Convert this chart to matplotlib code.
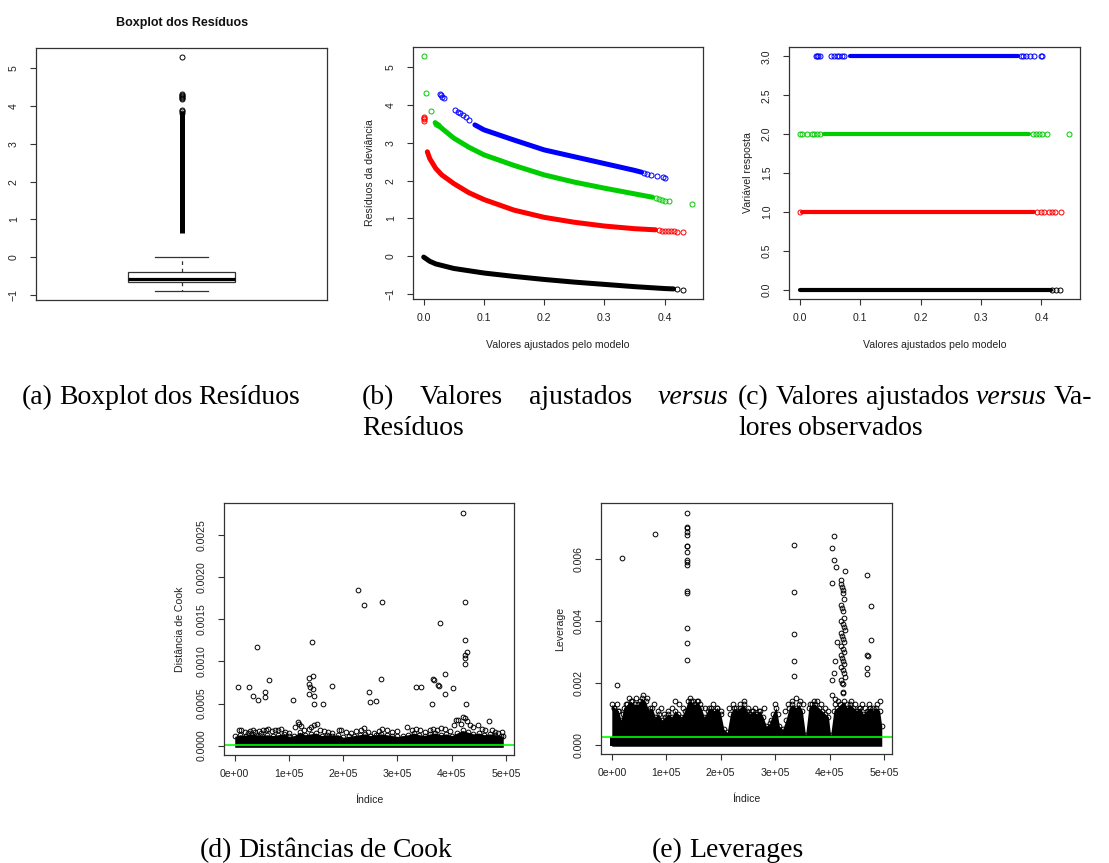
import matplotlib
matplotlib.use('Agg')
import matplotlib.pyplot as plt

W, H = 1109, 863
plt.rcParams['font.family'] = ['Liberation Sans', 'DejaVu Sans']

RED, GREEN, BLUE, BLACK = '#FF0000', '#00CD00', '#0000FF', '#000000'
AXC = '#333333'
LIME = '#00FF00'

# ---------------- data ----------------
# (a) boxplot of the residuals
box_q1 = -0.64
box_med = -0.565
box_q3 = -0.39
box_whislo = -0.88
box_whishi = 0.0
flier_lo, flier_hi = 0.63, 3.86          # dense column of outliers
box_fliers = [3.80, 3.85, 3.88, 4.17, 4.20, 4.23, 4.26, 4.29, 4.31, 5.28]

# (b) fitted values vs deviance residuals (one dense band per response level)
b0_x = [0.0, 0.01, 0.02, 0.05, 0.1, 0.15, 0.2, 0.25, 0.3, 0.35, 0.4, 0.415]
b0_y = [-0.02, -0.13, -0.2, -0.32, -0.44, -0.53, -0.61, -0.68, -0.74, -0.80, -0.85, -0.86]
b1_x = [0.006, 0.01, 0.02, 0.03, 0.05, 0.075, 0.1, 0.15, 0.2, 0.25, 0.3, 0.35, 0.385]
b1_y = [2.76, 2.58, 2.32, 2.15, 1.92, 1.68, 1.50, 1.22, 1.03, 0.90, 0.80, 0.73, 0.70]
b2_x = [0.019, 0.03, 0.05, 0.075, 0.1, 0.15, 0.2, 0.25, 0.3, 0.35, 0.38]
b2_y = [3.53, 3.38, 3.12, 2.88, 2.68, 2.40, 2.15, 1.96, 1.80, 1.65, 1.56]
b3_x = [0.085, 0.1, 0.15, 0.2, 0.25, 0.3, 0.35, 0.362]
b3_y = [3.47, 3.34, 3.07, 2.81, 2.63, 2.45, 2.27, 2.22]
# isolated points at the ends of each band
p0_x = [0.42, 0.43]
p0_y = [-0.87, -0.88]
p1_x = [0.0, 0.0, 0.001, 0.001, 0.39, 0.395, 0.40, 0.405, 0.41, 0.415, 0.42, 0.43]
p1_y = [3.58, 3.62, 3.65, 3.68, 0.69, 0.68, 0.68, 0.67, 0.67, 0.66, 0.65, 0.63]
p2_x = [0.001, 0.004, 0.012, 0.021, 0.024, 0.385, 0.39, 0.395, 0.40, 0.408, 0.446]
p2_y = [5.28, 4.31, 3.84, 3.50, 3.47, 1.53, 1.51, 1.49, 1.47, 1.45, 1.38]
p3_x = [0.027, 0.029, 0.031, 0.033, 0.052, 0.057, 0.061, 0.065, 0.07, 0.075,
        0.366, 0.37, 0.377, 0.387, 0.398, 0.40]
p3_y = [4.28, 4.25, 4.21, 4.17, 3.86, 3.82, 3.78, 3.74, 3.69, 3.60,
        2.19, 2.17, 2.15, 2.12, 2.09, 2.08]

# (c) fitted values vs observed response
resp_levels = [0, 1, 2, 3]
resp_colors = [BLACK, RED, GREEN, BLUE]
c_band_lo = [0.0, 0.004, 0.040, 0.083]
c_band_hi = [0.415, 0.388, 0.380, 0.362]
c_pts = [
    [0.418, 0.424, 0.430],
    [0.0, 0.393, 0.399, 0.404, 0.412, 0.418, 0.423, 0.432],
    [0.0, 0.004, 0.012, 0.020, 0.024, 0.028, 0.034, 0.386, 0.391, 0.396, 0.401, 0.409, 0.446],
    [0.027, 0.029, 0.031, 0.033, 0.052, 0.057, 0.061, 0.065, 0.070, 0.074,
     0.366, 0.370, 0.375, 0.381, 0.388, 0.399, 0.401],
]

# (d) Cook's distance: top of the dense mass, ragged edge points, outliers
idx_ticks = [0, 100000, 200000, 300000, 400000, 500000]
idx_labels = ['0e+00', '1e+05', '2e+05', '3e+05', '4e+05', '5e+05']
cook_env_x = [0, 10e3, 20e3, 30e3, 40e3, 50e3, 60e3, 70e3, 80e3, 90e3, 100e3, 110e3, 120e3,
              130e3, 140e3, 150e3, 160e3, 170e3, 180e3, 190e3, 200e3, 210e3, 220e3, 230e3,
              240e3, 250e3, 260e3, 270e3, 280e3, 290e3, 300e3, 310e3, 320e3, 330e3, 340e3,
              350e3, 360e3, 370e3, 380e3, 390e3, 400e3, 410e3, 420e3, 430e3, 440e3, 450e3,
              460e3, 470e3, 480e3, 490e3, 495e3]
cook_env_top = [1.1e-4, 1.3e-4, 1.2e-4, 1.4e-4, 1.3e-4, 1.2e-4, 1.3e-4, 1.2e-4, 1.3e-4, 1.4e-4,
                1.1e-4, 1.2e-4, 1.6e-4, 1.3e-4, 1.4e-4, 1.5e-4, 1.2e-4, 1.3e-4, 1.2e-4, 1.3e-4,
                1.0e-4, 1.1e-4, 1.2e-4, 1.3e-4, 1.4e-4, 1.2e-4, 1.3e-4, 1.4e-4, 1.3e-4, 1.2e-4,
                1.1e-4, 1.2e-4, 1.3e-4, 1.5e-4, 1.3e-4, 1.2e-4, 1.4e-4, 1.5e-4, 1.3e-4, 1.4e-4,
                1.2e-4, 1.5e-4, 1.8e-4, 1.6e-4, 1.4e-4, 1.5e-4, 1.3e-4, 1.4e-4, 1.3e-4, 1.2e-4,
                1.1e-4]
cook_edge_x = [8e3, 12e3, 18e3, 24e3, 28e3, 33e3, 38e3, 44e3, 48e3, 52e3, 58e3, 62e3, 68e3,
               74e3, 80e3, 85e3, 92e3, 100e3, 112e3, 116e3, 119e3, 122e3, 128e3, 136e3, 141e3,
               146e3, 152e3, 158e3, 164e3, 172e3, 180e3, 192e3, 196e3, 205e3, 214e3, 224e3,
               232e3, 238e3, 246e3, 256e3, 266e3, 272e3, 280e3, 290e3, 300e3, 318e3, 326e3,
               334e3, 342e3, 350e3, 360e3, 366e3, 372e3, 380e3, 388e3, 396e3, 404e3, 408e3,
               412e3, 418e3, 421e3, 424e3, 428e3, 434e3, 440e3, 448e3, 455e3, 462e3, 468e3,
               474e3, 480e3, 486e3, 492e3]
cook_edge_y = [1.8e-4, 1.9e-4, 1.6e-4, 1.5e-4, 1.7e-4, 1.8e-4, 1.6e-4, 1.7e-4, 1.5e-4, 1.8e-4,
               1.9e-4, 2.0e-4, 1.7e-4, 1.8e-4, 1.9e-4, 2.0e-4, 1.6e-4, 1.5e-4, 2.2e-4, 2.8e-4,
               2.6e-4, 2.3e-4, 1.8e-4, 2.0e-4, 2.2e-4, 2.4e-4, 2.6e-4, 1.9e-4, 1.7e-4, 1.6e-4,
               1.5e-4, 1.9e-4, 1.8e-4, 1.6e-4, 1.5e-4, 1.7e-4, 1.8e-4, 2.1e-4, 1.6e-4, 1.5e-4,
               1.7e-4, 2.0e-4, 1.8e-4, 1.6e-4, 1.7e-4, 2.2e-4, 1.9e-4, 2.0e-4, 1.8e-4, 1.6e-4,
               1.9e-4, 2.0e-4, 1.8e-4, 2.1e-4, 2.0e-4, 1.7e-4, 2.4e-4, 3.0e-4, 3.1e-4, 2.6e-4,
               3.4e-4, 3.3e-4, 2.9e-4, 2.4e-4, 2.2e-4, 2.5e-4, 2.0e-4, 1.8e-4, 2.9e-4, 1.8e-4,
               1.6e-4, 1.5e-4, 1.6e-4]
cook_out_x = [5.5e3, 27e3, 34e3, 40.6e3, 42e3, 55e3, 56e3, 63e3, 107e3, 136.5e3, 137e3, 138e3,
              137e3, 142e3, 144.5e3, 145e3, 146e3, 146e3, 162e3, 180e3, 227e3, 238.6e3, 248e3,
              248.5e3, 260.8e3, 269e3, 270.6e3, 334e3, 344e3, 363e3, 366e3, 367e3, 374.5e3,
              377e3, 378.8e3, 388e3, 388e3, 403e3, 421e3, 423.7e3, 423.7e3, 424e3, 424e3,
              424e3, 426e3, 429e3]
cook_out_y = [6.94e-4, 7.02e-4, 5.95e-4, 11.67e-4, 5.44e-4, 6.39e-4, 5.83e-4, 7.74e-4, 5.44e-4,
              8.06e-4, 7.34e-4, 6.94e-4, 6.15e-4, 12.3e-4, 8.29e-4, 6.75e-4, 5.87e-4, 4.96e-4,
              4.92e-4, 7.14e-4, 18.45e-4, 16.7e-4, 6.39e-4, 5.2e-4, 5.32e-4, 7.94e-4, 17.1e-4,
              6.94e-4, 6.94e-4, 4.96e-4, 7.9e-4, 7.74e-4, 7.26e-4, 7.14e-4, 14.6e-4, 8.49e-4,
              6.11e-4, 6.79e-4, 27.66e-4, 12.5e-4, 10.75e-4, 10.44e-4, 9.72e-4, 17.1e-4,
              4.96e-4, 11.11e-4]
cook_cut = 1.0e-5

# (e) leverages
lev_env_x = [0, 5e3, 12e3, 17e3, 22e3, 28e3, 35e3, 42e3, 48e3, 55e3, 62e3, 68e3, 74e3, 80e3,
             86e3, 92e3, 98e3, 104e3, 110e3, 116e3, 122e3, 128e3, 134e3, 140e3, 146e3, 152e3,
             158e3, 164e3, 170e3, 176e3, 182e3, 188e3, 194e3, 200e3, 206e3, 212e3, 218e3,
             224e3, 230e3, 236e3, 242e3, 248e3, 254e3, 260e3, 266e3, 272e3, 278e3, 284e3,
             290e3, 296e3, 302e3, 308e3, 314e3, 320e3, 326e3, 332e3, 338e3, 344e3, 350e3,
             356e3, 362e3, 368e3, 374e3, 380e3, 386e3, 392e3, 398e3, 402e3, 408e3, 414e3,
             420e3, 426e3, 432e3, 438e3, 444e3, 450e3, 456e3, 462e3, 468e3, 474e3, 480e3,
             486e3, 492e3, 496e3]
lev_env_top = [13e-4, 12e-4, 11e-4, 8e-4, 12e-4, 13e-4, 14e-4, 13e-4, 13e-4, 15e-4, 14e-4,
               11e-4, 12e-4, 9e-4, 10e-4, 8e-4, 9e-4, 10e-4, 9e-4, 11e-4, 10e-4, 9e-4, 11e-4,
               14e-4, 14e-4, 13e-4, 14e-4, 12e-4, 9e-4, 11e-4, 12e-4, 11e-4, 12e-4, 10e-4,
               5e-4, 4e-4, 10e-4, 12e-4, 11e-4, 12e-4, 13e-4, 11e-4, 10e-4, 11e-4, 10e-4,
               11e-4, 9e-4, 6e-4, 7e-4, 10e-4, 12e-4, 6e-4, 5e-4, 8e-4, 12e-4, 13e-4, 12e-4,
               13e-4, 11e-4, 3e-4, 12e-4, 13e-4, 13e-4, 12e-4, 11e-4, 10e-4, 9e-4, 3e-4,
               11e-4, 12e-4, 13e-4, 14e-4, 12e-4, 13e-4, 12e-4, 11e-4, 12e-4, 10e-4, 11e-4,
               12e-4, 11e-4, 12e-4, 11e-4, 6e-4]
lev_edge_x = [4e3, 9e3, 14e3, 20e3, 26e3, 31e3, 38e3, 45e3, 52e3, 58e3, 64e3, 70e3, 77e3,
              84e3, 90e3, 96e3, 103e3, 110e3, 117e3, 124e3, 131e3, 143e3, 149e3, 156e3, 162e3,
              172e3, 179e3, 186e3, 193e3, 200e3, 215e3, 222e3, 229e3, 236e3, 243e3, 250e3,
              257e3, 264e3, 271e3, 280e3, 292e3, 299e3, 305e3, 318e3, 324e3, 331e3, 338e3,
              345e3, 351e3, 364e3, 371e3, 377e3, 384e3, 391e3, 397e3, 410e3, 416e3, 433e3,
              440e3, 447e3, 454e3, 460e3, 466e3, 473e3, 480e3, 487e3, 493e3]
lev_edge_y = [12e-4, 13e-4, 11e-4, 10e-4, 13e-4, 15e-4, 14e-4, 15e-4, 14e-4, 16e-4, 15e-4,
              12e-4, 13e-4, 11e-4, 12e-4, 10e-4, 11e-4, 12e-4, 14e-4, 13e-4, 12e-4, 15e-4,
              14e-4, 14e-4, 13e-4, 12e-4, 12e-4, 13e-4, 12e-4, 11e-4, 12e-4, 13e-4, 12e-4,
              13e-4, 14e-4, 12e-4, 11e-4, 12e-4, 11e-4, 12e-4, 8e-4, 13e-4, 10e-4, 11e-4,
              13e-4, 14e-4, 15e-4, 14e-4, 13e-4, 13e-4, 14e-4, 14e-4, 13e-4, 12e-4, 11e-4,
              13e-4, 14e-4, 13e-4, 14e-4, 13e-4, 12e-4, 13e-4, 12e-4, 13e-4, 12e-4, 13e-4,
              14e-4]
lev_out_x = [10.4e3, 19.6e3, 79.8e3, 138e3, 138e3, 138e3, 138e3, 138e3, 138e3, 138e3, 138e3,
             138e3, 138e3, 138e3, 138e3, 138e3, 138e3, 138e3, 138e3, 334e3, 334e3, 334e3,
             334e3, 334e3, 404e3, 408e3, 408e3, 411.7e3, 404e3, 404e3, 409e3, 411e3, 413e3,
             404e3, 411e3, 429e3, 469e3, 476.7e3, 476.7e3, 469e3, 470e3, 469e3, 469e3]
lev_out_y = [19.2e-4, 60.2e-4, 68e-4, 74.9e-4, 70.4e-4, 69.9e-4, 68.8e-4, 67.7e-4, 64.2e-4,
             64e-4, 62.1e-4, 59.5e-4, 59.1e-4, 58.1e-4, 49.5e-4, 48.8e-4, 37.7e-4, 32.9e-4,
             27.2e-4, 64.5e-4, 49.3e-4, 35.6e-4, 27e-4, 22.2e-4, 63.4e-4, 67.4e-4, 59.5e-4,
             57.2e-4, 52.1e-4, 20.8e-4, 23e-4, 27e-4, 33.1e-4, 16e-4, 14.7e-4, 56.2e-4,
             54.9e-4, 44.7e-4, 33.8e-4, 29e-4, 28.6e-4, 24.9e-4, 22.7e-4]
# the column of high leverage points near index 425000
lev_col_x = [421e3, 422e3, 423e3, 424e3, 425e3, 426e3, 421e3, 423e3, 425e3, 427e3, 422e3,
             424e3, 426e3, 428e3, 421e3, 423e3, 425e3, 427e3, 422e3, 424e3, 426e3, 421e3,
             423e3, 425e3, 427e3, 422e3, 424e3, 426e3, 428e3, 421e3, 423e3, 425e3, 424e3,
             424e3]
lev_col_y = [53e-4, 52e-4, 51e-4, 50e-4, 49e-4, 47e-4, 45e-4, 44e-4, 43e-4, 41e-4, 40e-4,
             39e-4, 38e-4, 37e-4, 36e-4, 35e-4, 34e-4, 33e-4, 32e-4, 31e-4, 30e-4, 29e-4,
             28e-4, 27e-4, 26e-4, 25e-4, 24e-4, 23e-4, 22e-4, 21e-4, 20e-4, 19.5e-4, 17e-4,
             16.8e-4]
lev_cut = 2.4e-4


# ---------------- helpers ----------------
fig = plt.figure(figsize=(W / 100, H / 100), dpi=100)
fig.patch.set_facecolor('white')


def r_axes(l, t, r, b):
    """Axes placed by its pixel box, styled like base R graphics."""
    ax = fig.add_axes([l / W, 1 - b / H, (r - l) / W, (b - t) / H])
    for s in ax.spines.values():
        s.set_color(AXC)
        s.set_linewidth(0.9)
    ax.tick_params(direction='out', length=4.3, width=0.8, color=AXC,
                   labelsize=7.6, labelcolor='#222222')
    ax.tick_params(axis='x', pad=6.0)
    ax.tick_params(axis='y', pad=8.0)
    return ax


def rot_y(ax):
    plt.setp(ax.get_yticklabels(), rotation=90, va='center')


def labels(ax, xlab, ylab, axw, axh, xoff=46, yoff=43):
    if xlab:
        ax.set_xlabel(xlab, fontsize=7.6, color='#222222')
        ax.xaxis.label.set_va('center')
        ax.xaxis.set_label_coords(0.5, -xoff / axh)
    if ylab:
        ax.set_ylabel(ylab, fontsize=7.6, color='#222222')
        ax.yaxis.label.set_va('center')
        ax.yaxis.set_label_coords(-yoff / axw, 0.5)


def circles(ax, x, y, color, ms=3.6):
    ax.plot(x, y, 'o', ls='none', mfc='none', mec=color, ms=ms, mew=0.7)


# ---------------- (a) boxplot ----------------
ax = r_axes(36, 48, 327, 300)
stats = [dict(med=box_med, q1=box_q1, q3=box_q3, whislo=box_whislo,
              whishi=box_whishi, fliers=[])]
ax.bxp(stats, positions=[1], widths=0.37, capwidths=0.182, showfliers=False,
       patch_artist=True,
       boxprops=dict(facecolor='white', edgecolor=AXC, lw=0.9),
       medianprops=dict(color='black', lw=2.3, solid_capstyle='butt'),
       whiskerprops=dict(color=AXC, lw=0.9, linestyle=(0, (3, 3))),
       capprops=dict(color=AXC, lw=0.9))
ax.vlines(1, flier_lo, flier_hi, color='black', lw=3.6)
circles(ax, [1] * len(box_fliers), box_fliers, BLACK)
ax.set_xlim(0.5, 1.5)
ax.set_ylim(-1.126, 5.526)
ax.set_xticks([])
ax.set_yticks([-1, 0, 1, 2, 3, 4, 5])
rot_y(ax)
fig.text(182 / W, 1 - 23 / H, 'Boxplot dos Resíduos', ha='center', va='center',
         fontsize=9, fontweight='bold', color='#111111')

# ---------------- (b) residuals ----------------
ax = r_axes(413, 47, 703, 299)
for bx, by, c in [(b0_x, b0_y, BLACK), (b1_x, b1_y, RED), (b2_x, b2_y, GREEN), (b3_x, b3_y, BLUE)]:
    ax.plot(bx, by, color=c, lw=3.6, solid_capstyle='round', solid_joinstyle='round')
for px, py, c in [(p0_x, p0_y, BLACK), (p1_x, p1_y, RED), (p2_x, p2_y, GREEN), (p3_x, p3_y, BLUE)]:
    circles(ax, px, py, c)
ax.set_xlim(-0.0178, 0.4638)
ax.set_ylim(-1.126, 5.526)
ax.set_xticks([0.0, 0.1, 0.2, 0.3, 0.4])
ax.set_xticklabels(['0.0', '0.1', '0.2', '0.3', '0.4'])
ax.set_yticks([-1, 0, 1, 2, 3, 4, 5])
rot_y(ax)
labels(ax, 'Valores ajustados pelo modelo', 'Resíduos da deviância', 290, 252)

# ---------------- (c) observed response ----------------
ax = r_axes(789, 47, 1080, 299)
for lev, c, lo, hi, pts in zip(resp_levels, resp_colors, c_band_lo, c_band_hi, c_pts):
    ax.plot([lo, hi], [lev, lev], color=c, lw=3.0, solid_capstyle='round')
    circles(ax, pts, [lev] * len(pts), c)
ax.set_xlim(-0.0178, 0.4638)
ax.set_ylim(-0.12, 3.12)
ax.set_xticks([0.0, 0.1, 0.2, 0.3, 0.4])
ax.set_xticklabels(['0.0', '0.1', '0.2', '0.3', '0.4'])
ax.set_yticks([0.0, 0.5, 1.0, 1.5, 2.0, 2.5, 3.0])
ax.set_yticklabels(['0.0', '0.5', '1.0', '1.5', '2.0', '2.5', '3.0'])
rot_y(ax)
labels(ax, 'Valores ajustados pelo modelo', 'Variável resposta', 291, 252, yoff=41)

# ---------------- (d) Cook's distance ----------------
ax = r_axes(224, 503, 514, 755)
ax.fill_between(cook_env_x, -2e-5, cook_env_top, color='black', lw=0)
circles(ax, cook_env_x, cook_env_top, BLACK, ms=3.4)
circles(ax, cook_edge_x, cook_edge_y, BLACK, ms=3.4)
circles(ax, cook_out_x, cook_out_y, BLACK, ms=3.4)
ax.axhline(cook_cut, color=LIME, lw=1.2)
ax.set_xlim(-19800, 514800)
ax.set_ylim(-0.000111, 0.002881)
ax.set_xticks(idx_ticks)
ax.set_xticklabels(idx_labels)
ax.set_yticks([0, 0.0005, 0.0010, 0.0015, 0.0020, 0.0025])
ax.set_yticklabels(['0.0000', '0.0005', '0.0010', '0.0015', '0.0020', '0.0025'])
rot_y(ax)
labels(ax, 'Índice', 'Distância de Cook', 290, 252, xoff=45, yoff=44)

# ---------------- (e) leverages ----------------
ax = r_axes(601, 503, 892, 754)
ax.fill_between(lev_env_x, -5e-5, lev_env_top, color='black', lw=0)
ax.fill_between([-4e3, 497e3], -5e-5, 2.5e-4, color='black', lw=0)
circles(ax, lev_env_x, lev_env_top, BLACK, ms=3.4)
circles(ax, lev_edge_x, lev_edge_y, BLACK, ms=3.4)
circles(ax, lev_out_x, lev_out_y, BLACK, ms=3.4)
circles(ax, lev_col_x, lev_col_y, BLACK, ms=3.4)
ax.axhline(lev_cut, color=LIME, lw=1.2)
ax.set_xlim(-19800, 514800)
ax.set_ylim(-0.0003, 0.0078)
ax.set_xticks(idx_ticks)
ax.set_xticklabels(idx_labels)
ax.set_yticks([0, 0.002, 0.004, 0.006])
ax.set_yticklabels(['0.000', '0.002', '0.004', '0.006'])
rot_y(ax)
labels(ax, 'Índice', 'Leverage', 291, 251, xoff=45, yoff=41)

# ---------------- sub-figure captions ----------------
renderer = fig.canvas.get_renderer()
cap_kw = dict(family='Liberation Serif', fontsize=20, va='baseline', color='black')


def caption_line(parts, x0, y, x1=None):
    """Place caption words on one line; justify between x0 and x1 if given."""
    texts = [fig.text(0, 1 - y / H, s, style=st, **cap_kw) for s, st in parts]
    widths = [t.get_window_extent(renderer).width for t in texts]
    if x1 is None or len(parts) == 1:
        space = 6
    else:
        space = (x1 - x0 - sum(widths)) / (len(parts) - 1)
    x = x0
    for t, w in zip(texts, widths):
        t.set_x(x / W)
        x += w + space


caption_line([('(a)', 'normal'), ('Boxplot', 'normal'), ('dos', 'normal'),
              ('Resíduos', 'normal')], 22, 404)
caption_line([('(b)', 'normal'), ('Valores', 'normal'), ('ajustados', 'normal'),
              ('versus', 'italic')], 362, 404, 728)
caption_line([('Resíduos', 'normal')], 362, 435)
caption_line([('(c)', 'normal'), ('Valores', 'normal'), ('ajustados', 'normal'),
              ('versus', 'italic'), ('Va-', 'normal')], 738, 404, 1092)
caption_line([('lores', 'normal'), ('observados', 'normal')], 738, 435)
caption_line([('(d)', 'normal'), ('Distâncias', 'normal'), ('de', 'normal'),
              ('Cook', 'normal')], 200, 857)
caption_line([('(e)', 'normal'), ('Leverages', 'normal')], 652, 857)

fig.savefig('out.png', dpi=100, facecolor='white')
